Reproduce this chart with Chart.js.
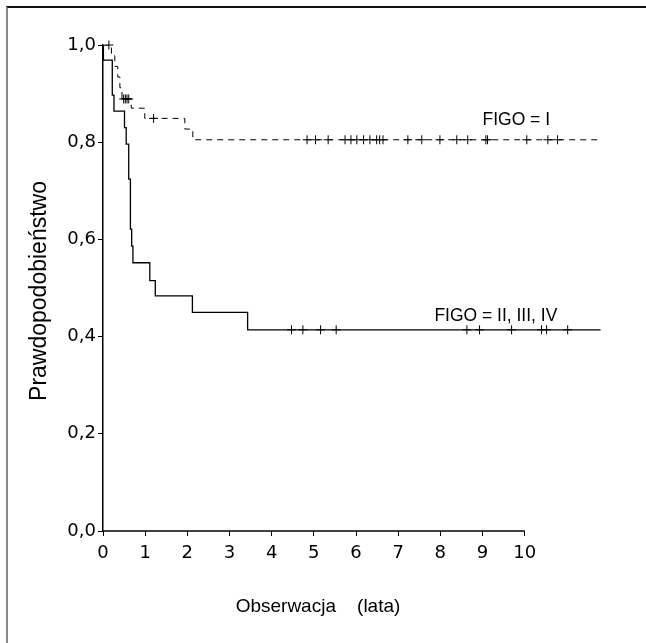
<!DOCTYPE html>
<html>
<head>
<meta charset="utf-8">
<script src="https://cdn.jsdelivr.net/npm/chart.js@4"></script>
<style>
  html, body { margin: 0; padding: 0; background: #fff; }
  #wrap { position: relative; width: 646px; height: 643px; }
  #frame { position: absolute; left: 6px; top: 6px; right: 0; bottom: 0;
           border-top: 2px solid #111; border-left: 2px solid #888; }
  canvas { position: absolute; left: 0; top: 0; }
</style>
</head>
<body>
<div id="wrap">
  <div id="frame"></div>
  <canvas id="canvas" width="646" height="643"></canvas>
</div>
<script>
// Kaplan-Meier steps: time (years) and survival after that time
const figoITimes = [0, 0.2, 0.28, 0.35, 0.4, 0.45, 0.67, 0.99, 1.94, 2.13, 11.8]
const figoISurv  = [1.0, 0.978, 0.956, 0.934, 0.912, 0.889, 0.870, 0.849, 0.827, 0.805, 0.805]
const figoICensored = [0.14, 0.49, 0.53, 0.57, 0.61, 1.2, 4.84, 5.04, 5.34, 5.74, 5.88, 6.02, 6.18, 6.33,
                       6.49, 6.56, 6.64, 7.23, 7.56, 7.99, 8.39, 8.65, 9.08, 9.12, 10.05, 10.55, 10.78]

const figoIITimes = [0, 0.01, 0.22, 0.26, 0.51, 0.55, 0.61, 0.65, 0.68, 0.71, 1.11, 1.24, 2.12, 3.43, 11.8]
const figoIISurv  = [1.0, 0.969, 0.897, 0.864, 0.830, 0.796, 0.724, 0.621, 0.586, 0.552, 0.515, 0.484, 0.450, 0.414, 0.414]
const figoIICensored = [4.47, 4.74, 5.16, 5.53, 8.63, 8.93, 9.69, 10.4, 10.52, 11.02]

const xTicks = [0, 1, 2, 3, 4, 5, 6, 7, 8, 9, 10]
const yTicks = [0, 0.2, 0.4, 0.6, 0.8, 1.0]

const groupLabels = ["FIGO = I", "FIGO = II, III, IV"]
const xTitle = "Obserwacja    (lata)"
const yTitle = "Prawdopodobieństwo"

// survival value at time t from a step curve
const survAt = (times, surv, t) => {
    let s = surv[0]
    times.forEach((tt, i) => { if (tt <= t) s = surv[i] })
    return s
}

const toPoints = (xs, ys) => xs.map((x, i) => ({ x: x, y: ys[i] }))

const censorPoints = (cens, times, surv) => cens.map(t => ({ x: t, y: survAt(times, surv, t) }))

// narrow text: draw squeezed horizontally
const narrowText = (ctx, text, x, y, squeeze) => {
    ctx.save()
    ctx.translate(x, y)
    ctx.scale(squeeze, 1)
    ctx.fillText(text, 0, 0)
    ctx.restore()
}

// x axis line only runs from 0 to the last tick, the curves go on past it
const axisLinePlugin = {
    id: "xAxisLine",
    beforeDatasetsDraw(chart) {
        const ctx = chart.ctx
        const xs = chart.scales.x
        const y = chart.chartArea.bottom
        ctx.save()
        ctx.strokeStyle = "#000"
        ctx.lineWidth = 1.5
        ctx.beginPath()
        ctx.moveTo(xs.getPixelForValue(xTicks[0]) - 0.75, y)
        ctx.lineTo(xs.getPixelForValue(xTicks[xTicks.length - 1]), y)
        ctx.stroke()
        ctx.restore()
    }
}

// labels next to the curves and the axis titles
const textPlugin = {
    id: "texts",
    afterDraw(chart) {
        const ctx = chart.ctx
        const xs = chart.scales.x
        const ys = chart.scales.y
        ctx.save()
        ctx.fillStyle = "#000"
        ctx.font = "19px 'Liberation Sans', sans-serif"
        ctx.textAlign = "left"
        ctx.textBaseline = "alphabetic"
        narrowText(ctx, groupLabels[0], xs.getPixelForValue(9.0), ys.getPixelForValue(0.805) - 15, 0.92)
        narrowText(ctx, groupLabels[1], xs.getPixelForValue(7.86), ys.getPixelForValue(0.414) - 9, 0.92)

        ctx.font = "19px 'Liberation Sans', sans-serif"
        ctx.textAlign = "center"
        ctx.textBaseline = "middle"
        ctx.fillText(xTitle, 318, 607)
        ctx.translate(40, 291)
        ctx.rotate(-Math.PI / 2)
        ctx.font = "23px 'Liberation Sans', sans-serif"
        ctx.fillText(yTitle, 0, 0)
        ctx.restore()
    }
}

const tickFont = { family: "'DejaVu Sans', sans-serif", size: 18 }

const target = document.querySelector("#canvas")
const kmChart = new Chart(target, {
    type: "scatter",
    data: {
        datasets: [
            {
                label: groupLabels[0],
                data: toPoints(figoITimes, figoISurv),
                showLine: true,
                stepped: true,
                borderColor: "#000",
                borderWidth: 1,
                borderDash: [6, 5],
                pointRadius: 0
            },
            {
                label: groupLabels[1],
                data: toPoints(figoIITimes, figoIISurv),
                showLine: true,
                stepped: true,
                borderColor: "#000",
                borderWidth: 1.3,
                pointRadius: 0
            },
            {
                label: "cens I",
                data: censorPoints(figoICensored, figoITimes, figoISurv),
                pointStyle: "cross",
                pointRadius: 4.5,
                borderColor: "#000",
                borderWidth: 1,
                clip: false
            },
            {
                label: "cens II",
                data: censorPoints(figoIICensored, figoIITimes, figoIISurv),
                pointStyle: "cross",
                pointRadius: 4.5,
                borderColor: "#000",
                borderWidth: 1,
                clip: false
            }
        ]
    },
    options: {
        responsive: false,
        animation: false,
        layout: { padding: { left: 0, top: 45, right: 37, bottom: 0 } },
        plugins: { legend: { display: false }, tooltip: { enabled: false } },
        scales: {
            x: {
                type: "linear",
                min: 0,
                max: 12,
                afterFit: scale => { scale.height = 112 },
                afterBuildTicks: scale => { scale.ticks = xTicks.map(v => ({ value: v })) },
                grid: { drawOnChartArea: false, drawTicks: true, tickLength: 5, color: "#000", lineWidth: 1 },
                border: { display: false },
                ticks: { color: "#000", font: tickFont, padding: 7, maxRotation: 0, autoSkip: false }
            },
            y: {
                type: "linear",
                min: 0,
                max: 1,
                afterFit: scale => { scale.width = 103 },
                afterBuildTicks: scale => { scale.ticks = yTicks.map(v => ({ value: v })) },
                grid: { drawOnChartArea: false, drawTicks: true, tickLength: 5, color: "#000", lineWidth: 1 },
                border: { display: true, color: "#000", width: 1.5 },
                ticks: {
                    color: "#000",
                    font: tickFont,
                    padding: 2,
                    callback: v => v.toFixed(1).replace(".", ",")
                }
            }
        }
    },
    plugins: [axisLinePlugin, textPlugin]
})
</script>
</body>
</html>
